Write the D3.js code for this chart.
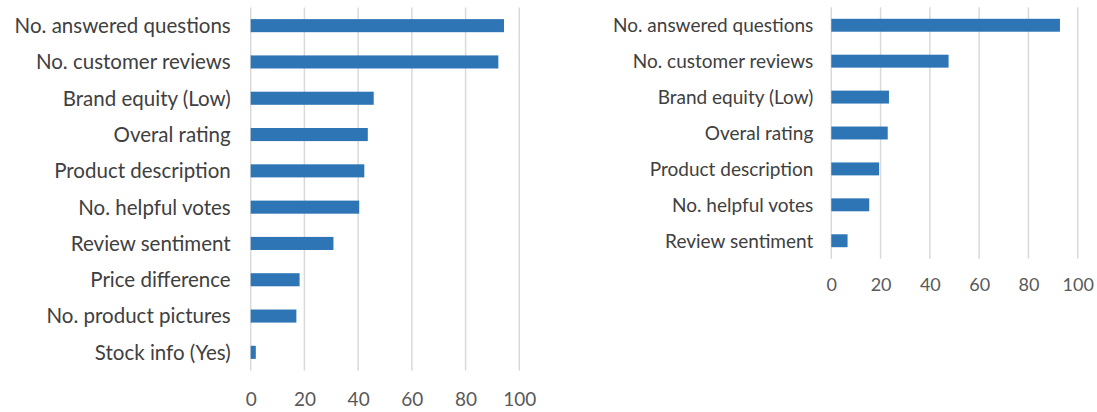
<!DOCTYPE html>
<html>
<head>
<meta charset="utf-8">
<script src="https://cdn.jsdelivr.net/npm/d3@7"></script>
<style>
  html, body { margin: 0; padding: 0; background: #fff; }
  svg { display: block; }
  text { font-family: Lato, "Open Sans", sans-serif; }
</style>
</head>
<body>
<svg id="chart" width="1097" height="412"></svg>
<script>
// Left panel: all ten attributes
const leftCategories = [
  "No. answered questions", "No. customer reviews", "Brand equity (Low)",
  "Overal rating", "Product description", "No. helpful votes",
  "Review sentiment", "Price difference", "No. product pictures", "Stock info (Yes)"
];
const leftValues = [94.3, 92.2, 45.8, 43.6, 42.3, 40.4, 30.8, 18.2, 17.0, 1.9];

// Right panel: seven attributes
const rightCategories = [
  "No. answered questions", "No. customer reviews", "Brand equity (Low)",
  "Overal rating", "Product description", "No. helpful votes", "Review sentiment"
];
const rightValues = [92.8, 47.6, 23.4, 22.9, 19.4, 15.4, 6.6];

const tickValues = [0, 20, 40, 60, 80, 100];

const svg = d3.select("#chart");

function drawPanel(cfg) {
  const g = svg.append("g");
  const x = d3.scaleLinear().domain([0, 100]).range([cfg.x0, cfg.x1]);
  const y = d3.scaleBand().domain(cfg.categories).range([cfg.y0, cfg.y1]).paddingInner(0.64).paddingOuter(0.32);

  // vertical gridlines
  g.append("g").selectAll("line").data(tickValues).join("line")
    .attr("x1", d => x(d)).attr("x2", d => x(d))
    .attr("y1", cfg.y0).attr("y2", cfg.y1)
    .attr("stroke", "#d9d9d9").attr("stroke-width", 1.5);

  // bars
  g.append("g").selectAll("rect").data(cfg.values).join("rect")
    .attr("x", x(0))
    .attr("y", (d, i) => y(cfg.categories[i]))
    .attr("width", d => x(d) - x(0))
    .attr("height", y.bandwidth())
    .attr("fill", "#2e75b6");

  // category labels
  const yAxis = d3.axisLeft(y).tickSize(0).tickPadding(cfg.labelGap);
  const ya = g.append("g").attr("transform", `translate(${x(0)},0)`).call(yAxis);
  ya.select(".domain").remove();
  ya.selectAll("text")
    .attr("font-family", "Lato, 'Open Sans', sans-serif")
    .attr("font-size", cfg.labelSize)
    .attr("fill", "#404040")
    .attr("dy", "0.36em");

  // value axis labels
  const xAxis = d3.axisBottom(x).tickValues(tickValues).tickSize(0).tickPadding(0);
  const xa = g.append("g").attr("transform", `translate(0,${cfg.tickBaseline})`).call(xAxis);
  xa.select(".domain").remove();
  xa.selectAll("text")
    .attr("font-family", "Lato, 'Open Sans', sans-serif")
    .attr("font-size", cfg.tickSize)
    .attr("fill", "#595959")
    .attr("dy", 0)
    .attr("y", 0);
}

drawPanel({
  categories: leftCategories, values: leftValues,
  x0: 250.7, x1: 519.3, y0: 7.5, y1: 370.5,
  labelGap: 20, labelSize: 20.5, tickSize: 19, tickBaseline: 406
});

drawPanel({
  categories: rightCategories, values: rightValues,
  x0: 831.3, x1: 1077.7, y0: 7.3, y1: 258.7,
  labelGap: 18, labelSize: 19, tickSize: 18, tickBaseline: 291
});
</script>
</body>
</html>
